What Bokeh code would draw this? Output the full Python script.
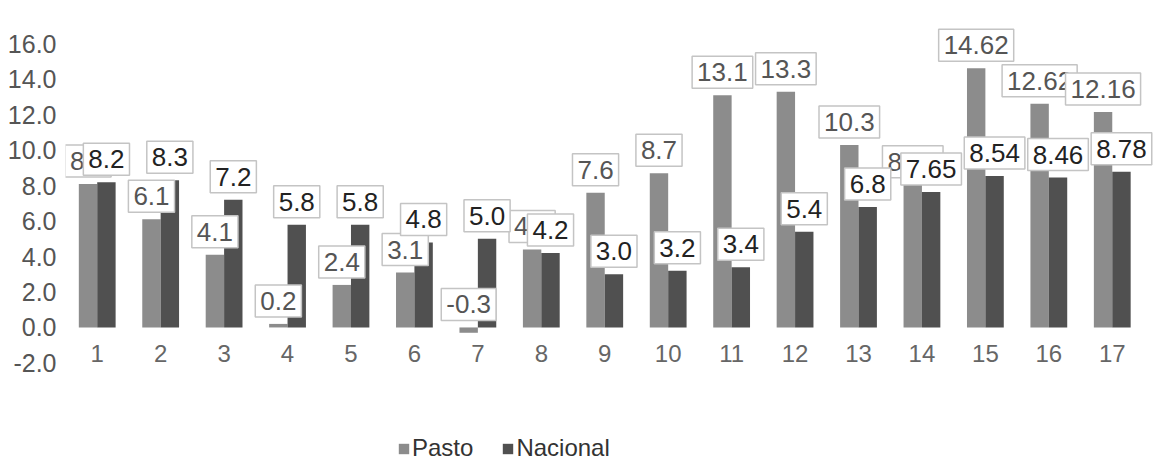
from bokeh.plotting import figure
from bokeh.models import (ColumnDataSource, Range1d, FixedTicker,
                          PrintfTickFormatter, Legend, LegendItem)
from bokeh.transform import dodge
from bokeh.core.properties import value
from bokeh.embed import file_html
from bokeh.resources import INLINE

# ---- data ----
categories = ["1", "2", "3", "4", "5", "6", "7", "8", "9", "10",
              "11", "12", "13", "14", "15", "16", "17"]
pasto = [8.1, 6.1, 4.1, 0.2, 2.4, 3.1, -0.3, 4.4, 7.6, 8.7,
         13.1, 13.3, 10.3, 8.05, 14.62, 12.62, 12.16]
nacional = [8.2, 8.3, 7.2, 5.8, 5.8, 4.8, 5.0, 4.2, 3.0, 3.2,
            3.4, 5.4, 6.8, 7.65, 8.54, 8.46, 8.78]
y_ticks = [-2, 0, 2, 4, 6, 8, 10, 12, 14, 16]
series_names = ["Pasto", "Nacional"]

FONT = "Liberation Sans"
C_PASTO = "#8c8c8c"
C_NAC = "#505050"

pos = list(range(1, len(categories) + 1))  # slot of each category on the x scale

src = ColumnDataSource(dict(
    x=pos,
    cat=categories,
    pasto=pasto,
    nacional=nacional,
    pasto_lbl=[str(v) for v in pasto],
    nac_lbl=[str(v) for v in nacional],
    pasto_y=[max(v, 0) for v in pasto],
    nac_y=[max(v, 0) for v in nacional],
    cat_y=[-1.47] * len(categories),
))

p = figure(x_range=Range1d(0.5, 17.65),
           y_range=Range1d(-7.79, 18.45),
           width=1153, height=465, output_backend="svg",
           toolbar_location=None, min_border_left=65, min_border_right=0,
           min_border_top=0, min_border_bottom=0)
p.outline_line_color = None
p.background_fill_color = "white"
p.xgrid.visible = False
p.ygrid.visible = False
p.xaxis.visible = False

ya = p.yaxis[0]
ya.ticker = FixedTicker(ticks=y_ticks)
ya.formatter = PrintfTickFormatter(format="%.1f")
ya.axis_line_color = None
ya.major_tick_line_color = None
ya.minor_tick_line_color = None
ya.major_label_text_font = FONT
ya.major_label_text_font_size = "25px"
ya.major_label_text_color = "#555555"
ya.major_label_standoff = 3

W = 0.29
r_p = p.vbar(x=dodge("x", -W / 2), top="pasto", bottom=0,
             width=W, source=src, fill_color=C_PASTO, line_color=None)
r_n = p.vbar(x=dodge("x", W / 2), top="nacional", bottom=0,
             width=W, source=src, fill_color=C_NAC, line_color=None)

# data labels in boxes
for xcol, ycol, tcol, tc in [(-W / 2, "pasto_y", "pasto_lbl", "#555555"),
                             (W / 2, "nac_y", "nac_lbl", "#222222")]:
    p.text(x=dodge("x", xcol), y=ycol, text=tcol, source=src,
           text_align="center", text_baseline="bottom", y_offset=-7,
           text_font=value(FONT), text_font_size="26px", text_color=tc,
           background_fill_color="white", border_line_color="#c4c4c4",
           border_line_width=1.5, padding=(5, 7))

# category labels
p.text(x="x", y="cat_y", text="cat", source=src, text_align="center",
       text_baseline="middle", text_font=value(FONT), text_font_size="24px",
       text_color="#666666")

legend = Legend(items=[LegendItem(label=series_names[0], renderers=[r_p]),
                       LegendItem(label=series_names[1], renderers=[r_n])],
                location=(332, 3), orientation="horizontal",
                glyph_width=13, glyph_height=13, label_standoff=2, spacing=28,
                padding=0, margin=0, border_line_color=None,
                background_fill_alpha=0, label_text_font=FONT,
                label_text_font_size="24px", label_text_color="#333333",
                label_height=20)
p.add_layout(legend)

open("out.html", "w").write(file_html(p, INLINE))
